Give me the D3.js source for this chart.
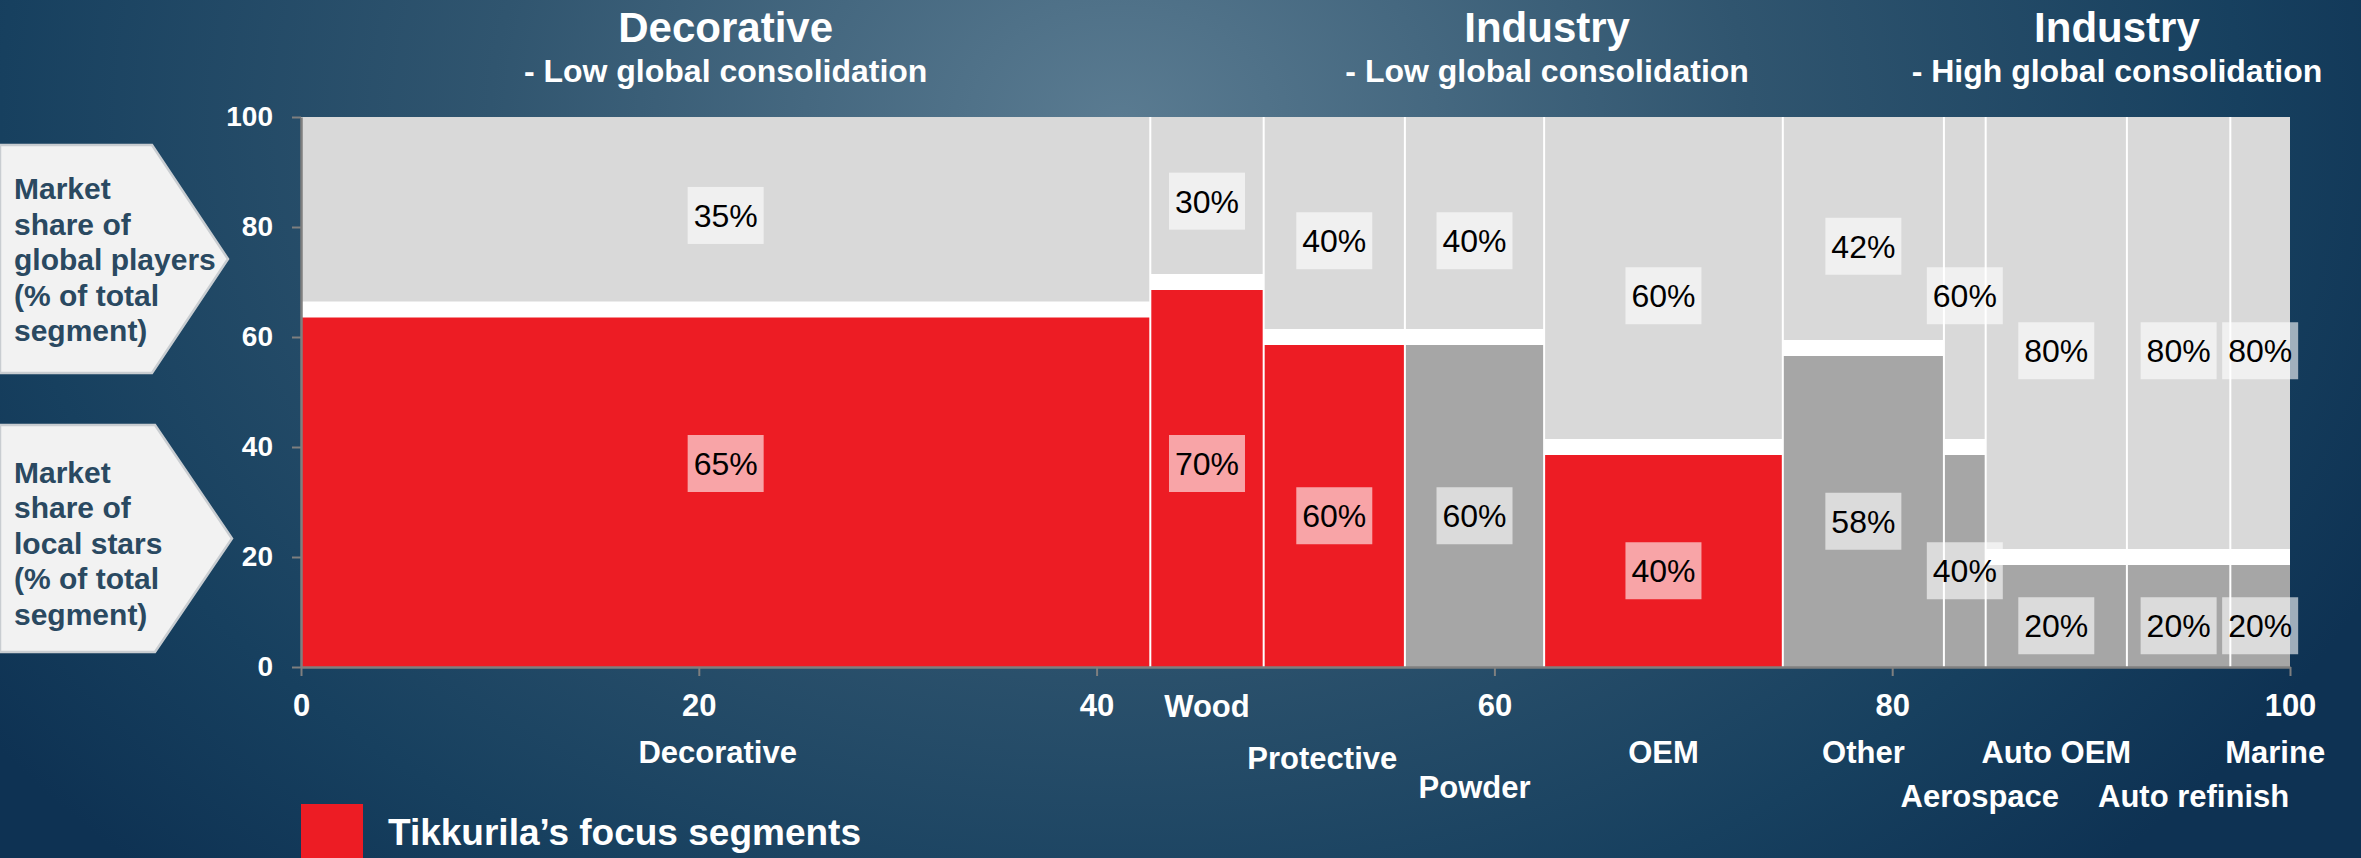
<!DOCTYPE html>
<html>
<head>
<meta charset="utf-8">
<script src="https://cdn.jsdelivr.net/npm/d3@7"></script>
<style>
  html, body { margin: 0; padding: 0; overflow: hidden; background: #133a5a; }
  svg { display: block; }
</style>
</head>
<body>
<svg id="chart" width="2361" height="858"></svg>
<script>
// Paint market segments: width = share of total market, height split between
// local stars (bottom) and global players (top).
const segments     = ["Decorative", "Wood", "Protective", "Powder", "OEM", "Other",
                      "Aerospace", "Auto OEM", "Auto refinish", "Marine"];
const segmentSize  = [42.7, 5.7, 7.1, 7.0, 12.0, 8.1, 2.1, 7.1, 5.2, 3.0];
const localShare   = [65, 70, 60, 60, 40, 58, 40, 20, 20, 20];
const globalShare  = [35, 30, 40, 40, 60, 42, 60, 80, 80, 80];
const focusSegment = [true, true, true, false, true, false, false, false, false, false];

const groupTitles    = ["Decorative", "Industry", "Industry"];
const groupSubtitles = ["- Low global consolidation", "- Low global consolidation", "- High global consolidation"];
const groupSegmentCount = [1, 5, 4];

const xTicks = [0, 20, 40, 60, 80, 100];
const yTicks = [0, 20, 40, 60, 80, 100];

const legendLabel = "Tikkurila\u2019s focus segments";
const calloutGlobal = ["Market", "share of", "global players", "(% of total", "segment)"];
const calloutLocal  = ["Market", "share of", "local stars", "(% of total", "segment)"];

// ---- layout ----
const W = 2361, H = 858;
const FONT = "'Liberation Sans', Arial, Helvetica, sans-serif";
const RED = "#ed1c24", DARK = "#a6a6a6", LIGHT = "#d9d9d9";

const svg = d3.select("#chart");
const x = d3.scaleLinear().domain([0, 100]).range([301, 2290]);
const y = d3.scaleLinear().domain([0, 100]).range([667, 117]);

// background
const defs = svg.append("defs");
const bg = defs.append("radialGradient").attr("id", "bg")
  .attr("gradientUnits", "userSpaceOnUse")
  .attr("cx", 1120).attr("cy", 120).attr("r", 1400)
  .attr("gradientTransform", "translate(1120,120) scale(1,0.75) translate(-1120,-120)");
bg.append("stop").attr("offset", 0).attr("stop-color", "#5a7b91");
bg.append("stop").attr("offset", 0.45).attr("stop-color", "#30556f");
bg.append("stop").attr("offset", 0.8).attr("stop-color", "#17405f");
bg.append("stop").attr("offset", 1).attr("stop-color", "#0e3253");
svg.append("rect").attr("width", W).attr("height", H).attr("fill", "url(#bg)");

// segment geometry
const starts = [0, ...d3.cumsum(segmentSize)].slice(0, segments.length);
const rows = segments.map((name, i) => ({
  name, i,
  x0: starts[i], x1: starts[i] + segmentSize[i],
  local: localShare[i], global: globalShare[i], focus: focusSegment[i]
}));

const plot = svg.append("g");

// global players (top part)
plot.selectAll("rect.global").data(rows).join("rect")
  .attr("class", "global")
  .attr("x", d => x(d.x0)).attr("width", d => x(d.x1) - x(d.x0))
  .attr("y", y(100)).attr("height", d => y(d.local) - y(100))
  .attr("fill", LIGHT);

// local stars (bottom part)
plot.selectAll("rect.local").data(rows).join("rect")
  .attr("class", "local")
  .attr("x", d => x(d.x0)).attr("width", d => x(d.x1) - x(d.x0))
  .attr("y", d => y(d.local)).attr("height", d => y(0) - y(d.local))
  .attr("fill", d => d.focus ? RED : DARK);

// white divider between the two parts
const gap = 16;
plot.selectAll("rect.divider").data(rows).join("rect")
  .attr("class", "divider")
  .attr("x", d => x(d.x0)).attr("width", d => x(d.x1) - x(d.x0))
  .attr("y", d => y(d.local) - gap / 2).attr("height", gap)
  .attr("fill", "#ffffff");

// thin separators between segments
plot.selectAll("line.sep").data(rows.slice(1)).join("line")
  .attr("class", "sep")
  .attr("x1", d => x(d.x0)).attr("x2", d => x(d.x0))
  .attr("y1", y(100)).attr("y2", y(0))
  .attr("stroke", "#ffffff").attr("stroke-width", 2);

// value labels
const labelShift = -2.5;            // labels sit slightly below the part centre
const labelNudge = {                // hand-placed labels of the first two segments
  Decorative: { top: 2.1, bottom: 7.0 },
  Wood:       { top: 2.2, bottom: 4.5 }
};
const labels = [];
rows.forEach(d => {
  const n = labelNudge[d.name] || { top: 0, bottom: 0 };
  labels.push({ cx: (d.x0 + d.x1) / 2, cy: (d.local + 100) / 2 + labelShift + n.top, text: d.global + "%" });
  labels.push({ cx: (d.x0 + d.x1) / 2, cy: d.local / 2 + labelShift + n.bottom, text: d.local + "%" });
});
const lab = plot.selectAll("g.vlabel").data(labels).join("g")
  .attr("class", "vlabel")
  .attr("transform", d => `translate(${x(d.cx)},${y(d.cy)})`);
lab.append("rect")
  .attr("x", -38).attr("y", -28.5).attr("width", 76).attr("height", 57)
  .attr("fill", "#ffffff").attr("fill-opacity", 0.6);
lab.append("text")
  .attr("text-anchor", "middle").attr("dy", "0.36em")
  .attr("font-family", FONT).attr("font-size", 32).attr("fill", "#000")
  .text(d => d.text);

// axes
const yAxis = svg.append("g").attr("transform", `translate(${x(0)},0)`)
  .call(d3.axisLeft(y).tickValues(yTicks).tickSize(9).tickPadding(19).tickSizeOuter(0));
const xAxis = svg.append("g").attr("transform", `translate(0,${y(0)})`)
  .call(d3.axisBottom(x).tickValues(xTicks).tickSize(9).tickSizeOuter(0));
[yAxis, xAxis].forEach(a => {
  a.select(".domain").attr("stroke", "#7f7f7f").attr("stroke-width", 2.5);
  a.selectAll(".tick line").attr("stroke", "#7f7f7f").attr("stroke-width", 2);
  a.selectAll(".tick text").attr("fill", "#ffffff").attr("font-family", FONT).attr("font-weight", "bold");
});
yAxis.selectAll(".tick text").attr("font-size", 28);
xAxis.selectAll(".tick text").attr("font-size", 31).attr("y", 38).attr("dy", "0.36em");

// segment names under the axis, staggered to avoid overlaps
const nameRow = { "Wood": 706, "Protective": 758, "Powder": 787, "Aerospace": 796, "Auto refinish": 796 };
const nameNudge = { "Decorative": -8, "Protective": -12, "Aerospace": 15, "Auto refinish": 15, "Marine": 15 };
svg.append("g").selectAll("text").data(rows).join("text")
  .attr("x", d => x((d.x0 + d.x1) / 2) + (nameNudge[d.name] || 0))
  .attr("y", d => nameRow[d.name] || 752)
  .attr("dy", "0.36em")
  .attr("text-anchor", "middle")
  .attr("font-family", FONT).attr("font-weight", "bold").attr("font-size", 31)
  .attr("fill", "#ffffff")
  .text(d => d.name);

// group headings
const groupStarts = [0, ...d3.cumsum(groupSegmentCount)];
const groups = groupTitles.map((t, g) => {
  const first = rows[groupStarts[g]], last = rows[groupStarts[g + 1] - 1];
  return { title: t, subtitle: groupSubtitles[g], cx: (first.x0 + last.x1) / 2 };
});
const head = svg.append("g").selectAll("g").data(groups).join("g")
  .attr("transform", d => `translate(${x(d.cx)},0)`);
head.append("text").attr("y", 42).attr("text-anchor", "middle")
  .attr("font-family", FONT).attr("font-weight", "bold").attr("font-size", 42).attr("fill", "#ffffff")
  .text(d => d.title);
head.append("text").attr("y", 82).attr("text-anchor", "middle")
  .attr("font-family", FONT).attr("font-weight", "bold").attr("font-size", 32).attr("fill", "#ffffff")
  .text(d => d.subtitle);

// left-hand arrow callouts
function callout(top, bottom, flat, tip, lines, firstLine) {
  const mid = (top + bottom) / 2;
  const g = svg.append("g");
  g.append("path")
    .attr("d", `M0,${top}H${flat}L${tip},${mid}L${flat},${bottom}H0Z`)
    .attr("fill", "#f2f2f2").attr("stroke", "#c9cdd1").attr("stroke-width", 2.5);
  g.selectAll("text").data(lines).join("text")
    .attr("x", 14).attr("y", (d, i) => firstLine + i * 35.5).attr("dy", "0.36em")
    .attr("font-family", FONT).attr("font-weight", "bold").attr("font-size", 30)
    .attr("fill", "#2a4961")
    .text(d => d);
}
callout(145, 373, 152, 228, calloutGlobal, 188.5);
callout(425, 652, 155, 232, calloutLocal, 472);

// legend
svg.append("rect").attr("x", 301).attr("y", 804).attr("width", 62).attr("height", 60).attr("fill", RED);
svg.append("text").attr("x", 388).attr("y", 832).attr("dy", "0.36em")
  .attr("font-family", FONT).attr("font-weight", "bold").attr("font-size", 37).attr("fill", "#ffffff")
  .text(legendLabel);
</script>
</body>
</html>
